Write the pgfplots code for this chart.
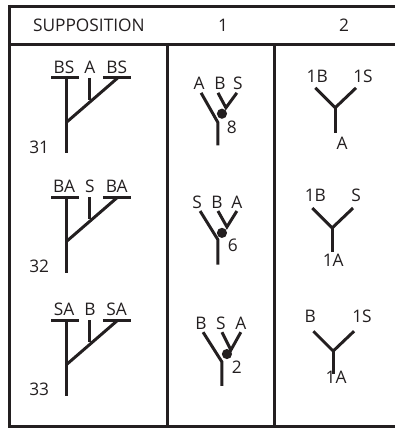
\documentclass[border=0pt]{standalone}
\usepackage{pgfplots}
\pgfplotsset{compat=1.18}
\usepackage{fontspec}
\setmainfont{Open Sans}
\definecolor{ink}{HTML}{231F20}
\tikzset{lbl/.style={font=\fontsize{17.5}{19}\selectfont, text=ink, inner sep=0pt, anchor=center}}
\begin{document}
\begin{tikzpicture}
\begin{axis}[
  width=396bp, height=431bp, scale only axis,
  xmin=0, xmax=396, ymin=0, ymax=431, y dir=reverse,
  hide axis, clip=false,
  cycle list={{draw=ink, solid, no markers}},
  every axis plot post/.append style={draw=ink, solid, line width=3bp, line cap=butt}
]
% bounding box
\addplot[draw opacity=0] coordinates {(0,0) (396,431)};
% frame
\addplot coordinates {(7,5) (396,5)};
\addplot coordinates {(7,43) (396,43)};
\addplot coordinates {(7,428) (396,428)};
\addplot coordinates {(8,3.5) (8,429.5)};
\addplot coordinates {(167,43) (167,428)};
\addplot coordinates {(275,43) (275,428)};
% header
\node[lbl] at (axis cs:88,24) {SUPPOSITION};
\node[lbl] at (axis cs:223,24) {1};
\node[lbl] at (axis cs:345,24) {2};
% column 0 trees
\addplot coordinates {(50,77) (78,77)};
\addplot coordinates {(102,77) (130,77)};
\addplot coordinates {(65,77) (65,153)};
\addplot coordinates {(89,77) (89,99)};
\addplot coordinates {(65,122) (117,77)};
\addplot coordinates {(50,197) (78,197)};
\addplot coordinates {(102,197) (130,197)};
\addplot coordinates {(65,197) (65,273)};
\addplot coordinates {(89,197) (89,219)};
\addplot coordinates {(65,242) (117,197)};
\addplot coordinates {(50,321) (78,321)};
\addplot coordinates {(102,321) (130,321)};
\addplot coordinates {(65,321) (65,397)};
\addplot coordinates {(89,321) (89,343)};
\addplot coordinates {(65,366) (117,321)};
\node[lbl] at (axis cs:63,66) {BS};
\node[lbl] at (axis cs:89,66) {A};
\node[lbl] at (axis cs:116,66) {BS};
\node[lbl] at (axis cs:38,147) {31};
\node[lbl] at (axis cs:63,186) {BA};
\node[lbl] at (axis cs:89,186) {S};
\node[lbl] at (axis cs:116,186) {BA};
\node[lbl] at (axis cs:38,267) {32};
\node[lbl] at (axis cs:63,310) {SA};
\node[lbl] at (axis cs:89,310) {B};
\node[lbl] at (axis cs:116,310) {SA};
\node[lbl] at (axis cs:38,391) {33};
% column 1 trees
\addplot coordinates {(201,92) (218,122) (218,145)};
\addplot coordinates {(218,92) (226,107) (237,92)};
\addplot[only marks, mark=*, mark size=3.5bp, fill=ink, draw=ink, line width=0pt] coordinates {(222,113)};
\node[lbl] at (axis cs:199,82) {A};
\node[lbl] at (axis cs:220,82) {B};
\node[lbl] at (axis cs:238,82) {S};
\node[lbl] at (axis cs:232,127) {8};
\addplot coordinates {(200,211) (218,240) (218,265)};
\addplot coordinates {(218,211) (227,227) (237,211)};
\addplot[only marks, mark=*, mark size=3.5bp, fill=ink, draw=ink, line width=0pt] coordinates {(222,233)};
\node[lbl] at (axis cs:197,202) {S};
\node[lbl] at (axis cs:217,202) {B};
\node[lbl] at (axis cs:237,202) {A};
\node[lbl] at (axis cs:233,246) {6};
\addplot coordinates {(203,333) (222,363) (222,387)};
\addplot coordinates {(222,333) (231,351) (241,333)};
\addplot[only marks, mark=*, mark size=3.5bp, fill=ink, draw=ink, line width=0pt] coordinates {(227,355)};
\node[lbl] at (axis cs:201,324) {B};
\node[lbl] at (axis cs:221,324) {S};
\node[lbl] at (axis cs:241,324) {A};
\node[lbl] at (axis cs:237,368) {2};
% column 2 trees
\addplot coordinates {(316,87) (336,107) (357,87)};
\addplot coordinates {(336,107) (336,132)};
\node[lbl] at (axis cs:318,75) {1B};
\node[lbl] at (axis cs:364,75) {1S};
\node[lbl] at (axis cs:343,143) {A};
\addplot coordinates {(313,208) (333,228) (354,208)};
\addplot coordinates {(333,228) (333,252)};
\node[lbl] at (axis cs:316,195) {1B};
\node[lbl] at (axis cs:357,195) {S};
\node[lbl] at (axis cs:334,261) {1A};
\addplot coordinates {(314,332) (334,352) (355,332)};
\addplot coordinates {(334,352) (334,375)};
\node[lbl] at (axis cs:311,317) {B};
\node[lbl] at (axis cs:363,317) {1S};
\node[lbl] at (axis cs:337,378) {1A};
\end{axis}
\end{tikzpicture}
\end{document}
